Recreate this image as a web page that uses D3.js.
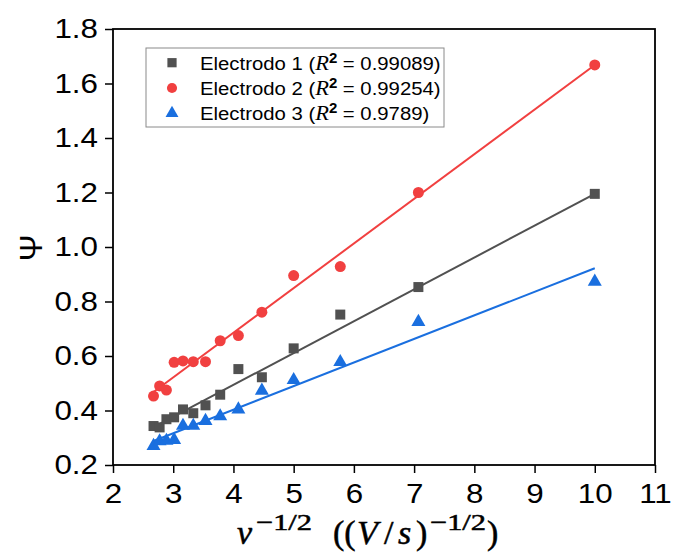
<!DOCTYPE html>
<html>
<head>
<meta charset="utf-8">
<script src="https://cdn.jsdelivr.net/npm/d3@7"></script>
<style>
  html, body { margin: 0; padding: 0; background: #fff; }
  svg { display: block; }
</style>
</head>
<body>
<svg id="chart" width="673" height="557"></svg>
<script>
// ---- data ----
const xValues = [2.673, 2.774, 2.887, 3.015, 3.162, 3.333, 3.536, 3.780, 4.082, 4.472, 5.0, 5.774, 7.071, 10.0];
const electrodo1 = [0.343, 0.338, 0.368, 0.375, 0.404, 0.390, 0.419, 0.458, 0.552, 0.522, 0.628, 0.752, 0.853, 1.195];
const electrodo2 = [0.453, 0.490, 0.475, 0.577, 0.582, 0.579, 0.579, 0.656, 0.675, 0.761, 0.895, 0.928, 1.200, 1.668];
const electrodo3 = [0.270, 0.287, 0.289, 0.292, 0.344, 0.344, 0.362, 0.379, 0.404, 0.473, 0.512, 0.578, 0.725, 0.873];
// linear-fit endpoints [x, y]
const fit1 = [[2.673, 0.339], [10.0, 1.195]];
const fit2 = [[2.673, 0.468], [10.0, 1.668]];
const fit3 = [[2.673, 0.288], [10.0, 0.922]];
const seriesNames = ["Electrodo 1", "Electrodo 2", "Electrodo 3"];
const r2Labels = ["0.99089", "0.99254", "0.9789"];
const xTicks = [2, 3, 4, 5, 6, 7, 8, 9, 10, 11];
const yTicks = [0.2, 0.4, 0.6, 0.8, 1.0, 1.2, 1.4, 1.6, 1.8];

const colors = ["#515151", "#F14040", "#1A6FDF"];
const symbols = [d3.symbolSquare, d3.symbolCircle, d3.symbolTriangle];
const symSizes = [100, 95, 85];

const svg = d3.select("#chart");
const margin = {left: 113, top: 29, right: 18, bottom: 92};
const W = 673 - margin.left - margin.right;
const H = 557 - margin.top - margin.bottom;

const x = d3.scaleLinear().domain([2, 11]).range([margin.left, margin.left + W]);
const y = d3.scaleLinear().domain([0.2, 1.8]).range([margin.top + H, margin.top]);

const series = [
  {name: seriesNames[0], vals: electrodo1, fit: fit1},
  {name: seriesNames[1], vals: electrodo2, fit: fit2},
  {name: seriesNames[2], vals: electrodo3, fit: fit3}
];

// fit lines
const line = d3.line().x(d => x(d[0])).y(d => y(d[1]));
series.forEach((s, i) => {
  svg.append("path").datum(s.fit)
    .attr("d", line)
    .attr("fill", "none")
    .attr("stroke", colors[i])
    .attr("stroke-width", 2);
});

// markers
series.forEach((s, i) => {
  svg.append("g").selectAll("path")
    .data(xValues.map((xv, j) => [xv, s.vals[j]]))
    .join("path")
    .attr("transform", d => `translate(${x(d[0])},${y(d[1])})`)
    .attr("d", d3.symbol().type(symbols[i]).size(symSizes[i]))
    .attr("fill", colors[i]);
});

// axes
const fontAx = "'Liberation Sans', Arial, sans-serif";
const SX = 1.12; // horizontal stretch of the reference's tick text
const SXL = 1.07; // legend text stretch
const xAxis = svg.append("g")
  .attr("transform", `translate(0,${margin.top + H})`)
  .call(d3.axisBottom(x).tickValues(xTicks).tickFormat(d3.format("d")).tickSize(8).tickPadding(10));
const yAxis = svg.append("g")
  .attr("transform", `translate(${margin.left},0)`)
  .call(d3.axisLeft(y).tickValues(yTicks).tickFormat(d3.format(".1f")).tickSize(8).tickPadding(7));
[xAxis, yAxis].forEach(a => {
  a.select(".domain").remove();
  a.selectAll(".tick line").attr("stroke", "#000").attr("stroke-width", 1.5);
  a.selectAll(".tick text").attr("fill", "#000")
    .style("font-family", fontAx).style("font-size", "28px");
});
xAxis.selectAll(".tick text").attr("transform", `scale(${SX},1)`);
yAxis.selectAll(".tick text").attr("x", -15 / SX).attr("transform", `scale(${SX},1)`);

// frame
svg.append("rect")
  .attr("x", margin.left).attr("y", margin.top)
  .attr("width", W).attr("height", H)
  .attr("fill", "none").attr("stroke", "#000").attr("stroke-width", 1.8);

// legend
const lg = svg.append("g");
lg.append("rect").attr("x", 146).attr("y", 48).attr("width", 298).attr("height", 79)
  .attr("fill", "#fff").attr("stroke", "#8a8a8a").attr("stroke-width", 1);
series.forEach((s, i) => {
  const cy = 62.7 + i * 25.3;
  lg.append("path")
    .attr("transform", `translate(172,${cy})`)
    .attr("d", d3.symbol().type(symbols[i]).size(symSizes[i] * 0.85))
    .attr("fill", colors[i]);
  const t = lg.append("text")
    .attr("transform", `translate(200,${cy + 6.8}) scale(${SXL},1)`)
    .style("font-family", fontAx).style("font-size", "19px").attr("fill", "#000");
  t.append("tspan").text(s.name + " (");
  t.append("tspan").text("R").style("font-family", "'Liberation Serif', serif").style("font-style", "italic").style("font-size", "21px");
  t.append("tspan").text("2").attr("dy", -7).style("font-size", "14px").style("font-weight", "bold");
  t.append("tspan").text(" = " + r2Labels[i] + ")").attr("dy", 7);
});

// x axis title (math-style)
const mathFont = "'Liberation Serif', serif";
const xt = svg.append("text")
  .attr("y", 544)
  .style("font-family", mathFont).style("font-size", "34px")
  .attr("fill", "#000").attr("stroke", "#000").attr("stroke-width", 0.5);
const part = (txt, xPos, opts = {}) => {
  const ts = xt.append("tspan").attr("x", xPos).attr("y", opts.sup ? 530 : 544).text(txt);
  if (opts.italic) ts.style("font-style", "italic");
  if (opts.sup) ts.style("font-size", "23px").attr("textLength", opts.len).attr("lengthAdjust", "spacingAndGlyphs");
  return ts;
};
part("ν", 237, {italic: true});
part("−1/2", 256, {sup: true, len: 56});
part("((", 333);
part("V", 357, {italic: true});
part("/", 384);
part("s", 398, {italic: true});
part(")", 416);
part("−1/2", 430, {sup: true, len: 56});
part(")", 487);

// y axis title
svg.append("text")
  .attr("transform", `translate(42,248) rotate(-90)`)
  .attr("text-anchor", "middle")
  .style("font-family", fontAx).style("font-size", "32px").attr("fill", "#000")
  .text("Ψ");
</script>
</body>
</html>
